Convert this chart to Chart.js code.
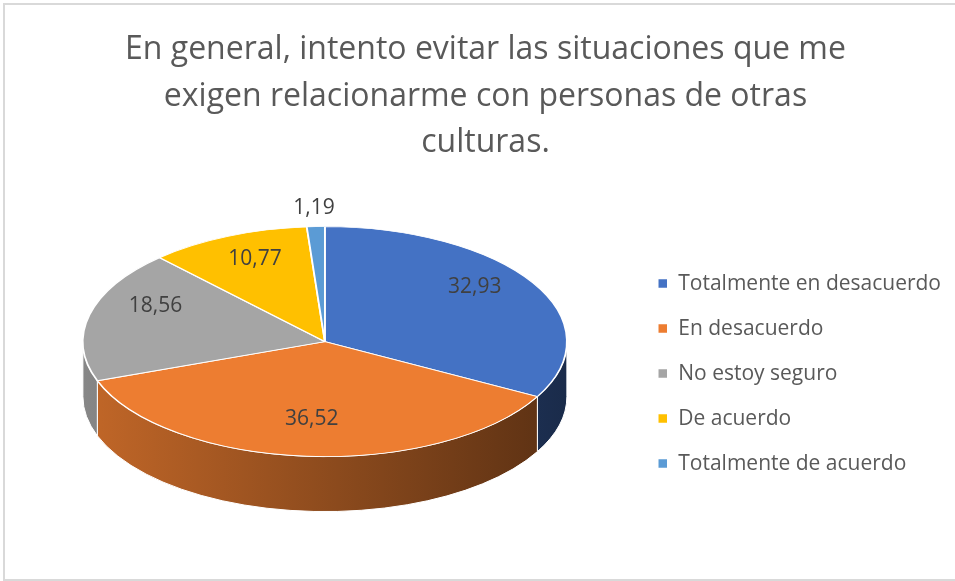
<!DOCTYPE html>
<html>
<head>
<meta charset="utf-8">
<script src="https://cdn.jsdelivr.net/npm/chart.js@4.4.1/dist/chart.umd.min.js"></script>
<style>
  body { margin: 0; background: #fff; }
  #wrap { position: relative; width: 955px; height: 581px; overflow: hidden; }
  #frame {
    position: absolute; left: 3px; top: 3px; width: 980px; height: 578px;
    border: 2px solid #d9d9d9; box-sizing: border-box; pointer-events: none;
  }
</style>
</head>
<body>
<div id="wrap">
  <canvas id="pie" width="955" height="581"></canvas>
  <div id="frame"></div>
</div>
<script>
const titleLines = [
  "En general, intento evitar las situaciones que me",
  "exigen relacionarme con personas de otras",
  "culturas.",
];
const categories = [
  "Totalmente en desacuerdo",
  "En desacuerdo",
  "No estoy seguro",
  "De acuerdo",
  "Totalmente de acuerdo",
];
const values = [32.93, 36.52, 18.56, 10.77, 1.19];
const colors = ["#4472C4", "#ED7D31", "#A5A5A5", "#FFC000", "#5B9BD5"];

function shade(hex, k) {
  const n = parseInt(hex.slice(1), 16);
  const r = Math.round(((n >> 16) & 255) * k);
  const g = Math.round(((n >> 8) & 255) * k);
  const b = Math.round((n & 255) * k);
  return `rgb(${r},${g},${b})`;
}

function formatValue(v) {
  return v.toFixed(2).replace(".", ",");
}

// squashes the flat pie into an ellipse and adds a side wall
const tiltedPie = {
  id: "tiltedPie",
  geometry(chart, opts) {
    const arc = chart.getDatasetMeta(0).data[0];
    return {
      x: arc.x,
      y: arc.y,
      r: arc.outerRadius,
      cx: arc.x + opts.dx,
      cy: arc.y + opts.dy,
      rx: opts.rx,
      ry: opts.ry,
    };
  },
  beforeDatasetsDraw(chart, args, opts) {
    const ctx = chart.ctx;
    const g = this.geometry(chart, opts);
    chart.getDatasetMeta(0).data.forEach((arc, i) => {
      const a = Math.max(arc.startAngle, 0);
      const b = Math.min(arc.endAngle, Math.PI);
      if (b <= a) return;
      const grad = ctx.createLinearGradient(g.cx - g.rx, 0, g.cx + g.rx, 0);
      grad.addColorStop(0, shade(colors[i], 0.82));
      grad.addColorStop(1, shade(colors[i], 0.38));
      ctx.beginPath();
      ctx.ellipse(g.cx, g.cy, g.rx, g.ry, 0, a, b);
      ctx.ellipse(g.cx, g.cy + opts.depth, g.rx, g.ry, 0, b, a, true);
      ctx.closePath();
      ctx.fillStyle = grad;
      ctx.fill();
      ctx.strokeStyle = "#ffffff";
      ctx.lineWidth = 1;
      ctx.stroke();
    });
    ctx.save();
    ctx.translate(g.cx, g.cy);
    ctx.scale(g.rx / g.r, g.ry / g.r);
    ctx.translate(-g.x, -g.y);
  },
  afterDatasetsDraw(chart, args, opts) {
    const ctx = chart.ctx;
    ctx.restore();
    const g = this.geometry(chart, opts);
    // labels sit around the perspective apex, a bit above the ellipse centre
    const apexY = g.cy - opts.lift;
    ctx.save();
    ctx.font = "21px 'Open Sans'";
    ctx.fillStyle = "#404040";
    ctx.textAlign = "center";
    ctx.textBaseline = "middle";
    chart.getDatasetMeta(0).data.forEach((arc, i) => {
      const mid = (arc.startAngle + arc.endAngle) / 2;
      const f = values[i] < 5 ? opts.outside : opts.inside;
      const s = Math.sin(mid);
      const reach = s < 0 ? g.ry - opts.lift : g.ry + opts.lift;
      ctx.fillText(
        formatValue(values[i]),
        g.cx + g.rx * f * Math.cos(mid),
        apexY + reach * f * s,
      );
    });
    ctx.restore();
  },
};

new Chart(document.getElementById("pie"), {
  type: "pie",
  data: {
    labels: categories,
    datasets: [
      {
        data: values,
        backgroundColor: colors,
        borderColor: "#ffffff",
        borderWidth: 1.5,
        clip: false,
      },
    ],
  },
  plugins: [tiltedPie],
  options: {
    responsive: false,
    animation: false,
    events: [],
    layout: { padding: { top: 12, left: 20, right: 4, bottom: 3 } },
    plugins: {
      tooltip: { enabled: false },
      title: {
        display: true,
        text: titleLines,
        color: "#595959",
        font: { family: "Open Sans", size: 32, weight: "normal", lineHeight: 1.45 },
        padding: { top: 15, bottom: 3 },
      },
      legend: {
        position: "right",
        fullSize: false,
        labels: {
          color: "#595959",
          font: { family: "Open Sans", size: 21 },
          boxWidth: 10,
          boxHeight: 10,
          padding: 24,
        },
      },
      tiltedPie: {
        rx: 242, ry: 115, depth: 55, dx: -2, dy: -32,
        lift: 20, inside: 0.72, outside: 1.2,
      },
    },
  },
});
</script>
</body>
</html>
